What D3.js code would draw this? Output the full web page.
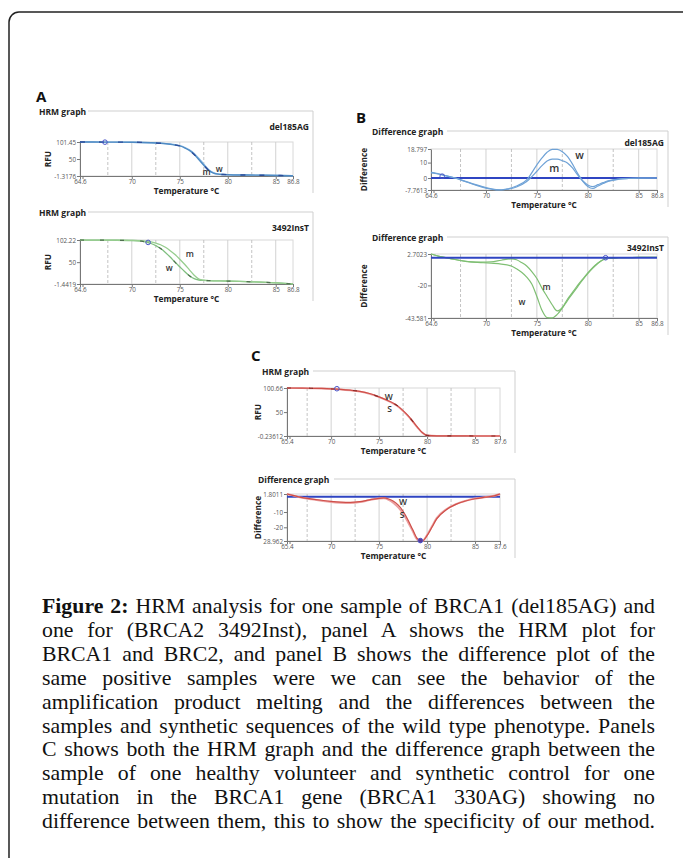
<!DOCTYPE html>
<html>
<head>
<meta charset="utf-8">
<script src="https://cdn.jsdelivr.net/npm/d3@7/dist/d3.min.js"></script>
<style>
  body { margin: 0; background: #fff; }
  #fig { position: relative; width: 683px; height: 858px; overflow: hidden; }
  #fig svg { position: absolute; left: 0; top: 0; }
  .caption { position: absolute; left: 42px; top: 595px; width: 613px;
    font-family: "Liberation Serif", "Times New Roman", serif; font-size: 21.8px; color: #111; }
  .caption div { white-space: nowrap; text-align: justify; text-align-last: justify; line-height: 23.9px; }
  .caption b { font-weight: bold; }
</style>
</head>
<body>
<div id="fig"></div>
<script>
// ---- data ----
const xTicksAB = [64.6, 70, 75, 80, 85, 86.8];
const xTickLabelsAB = ["64.6", "70", "75", "80", "85", "86.8"];
const xTicksC = [65.4, 70, 75, 80, 85, 87.6];
const xTickLabelsC = ["65.4", "70", "75", "80", "85", "87.6"];
const gridSolid = [70, 75, 80, 85];
const gridDashed = [67.5, 72.5, 77.5, 82.5];

// A - HRM graph del185AG
const a1Temp = [64.6, 66, 68, 70, 72, 73, 74, 75, 75.5, 76, 76.5, 77, 77.5, 78, 78.5, 79, 79.5, 80, 82, 84, 86.8];
const a1M = [101.45, 101.3, 101.1, 100.8, 99.2, 97.5, 94.5, 89.5, 84, 76, 64, 48, 31, 16, 7.5, 4.2, 3.2, 2.6, 1.6, 0.8, -0.8];
const a1W = [101.4, 101.3, 101.1, 100.8, 99.4, 97.9, 95.2, 90.5, 85.5, 78, 67, 51.5, 34.5, 18.5, 8.8, 4.8, 3.5, 2.8, 1.7, 0.9, -0.7];
const a1YTicks = [101.45, 50, -1.3176];
const a1YTickLabels = ["101.45", "50", "-1.3176"];

// A - HRM graph 3492InsT
const a2Temp = [64.6, 66, 68, 70, 71, 71.5, 72, 72.5, 73, 73.5, 74, 74.5, 75, 75.5, 76, 76.5, 77, 77.5, 78, 80, 82, 84, 86.8];
const a2W = [102.2, 102, 101.7, 101, 99.5, 97.5, 94, 89, 82, 73, 62, 50, 39, 28, 18, 11, 8, 7, 6.5, 5.5, 4, 2.5, -1.4];
const a2M = [102.2, 102, 101.7, 101.2, 100.5, 99.5, 98, 95, 91, 85, 77, 68, 57, 45, 32, 19, 10, 7.5, 6.7, 5.6, 4.1, 2.6, -1.3];
const a2YTicks = [102.22, 50, -1.4419];
const a2YTickLabels = ["102.22", "50", "-1.4419"];

// B - Difference graph del185AG
const b1Temp = [64.6, 65, 66, 67, 68, 69, 70, 71, 71.5, 72, 73, 74, 75, 75.5, 76, 76.5, 77, 77.5, 78, 78.5, 79, 79.5, 80, 80.5, 81, 81.5, 82, 83, 84, 85, 86.8];
const b1W = [3.6, 3.2, 1.6, 0, -2.2, -4.3, -6.2, -7.5, -7.6, -7.2, -5.2, -1.2, 8.5, 13, 16.7, 18.6, 18.5, 17, 14, 9, 3, -2, -5.5, -6.8, -5.2, -3.6, -2.2, -0.8, -0.3, -0.1, 0];
const b1M = [3.4, 3.0, 1.5, -0.1, -2.4, -4.6, -6.5, -7.7, -7.76, -7.4, -5.8, -2.2, 4.4, 8, 11, 12.3, 12.2, 11.2, 9.8, 6.5, 2, -1.8, -4.5, -5.6, -4.3, -3, -1.8, -0.7, -0.2, 0, 0];
const b1YTicks = [18.797, 10, 0, -7.7613];
const b1YTickLabels = ["18.797", "10", "0", "-7.7613"];

// B - Difference graph 3492InsT
const b2Temp = [64.6, 65.5, 66.5, 67.5, 68.5, 69.5, 70.5, 71.5, 72.5, 73, 73.5, 74, 74.5, 75, 75.5, 76, 76.5, 77, 77.5, 78, 78.5, 79, 79.5, 80, 80.5, 81, 81.5, 82, 83, 84, 85, 86.8];
const b2W = [2.7, 0.8, -0.6, -2.0, -3.0, -3.5, -4.0, -4.6, -6, -8, -10.5, -14, -19, -28, -38, -43.3, -43.5, -41, -36.5, -31, -26, -21, -16, -11.5, -7.5, -4, -1.5, -0.3, 0, 0.1, 0.2, 0.2];
const b2M = [2.7, 0.8, -0.6, -2.0, -3.0, -3.2, -3.0, -1.8, -0.8, -1.5, -3.5, -6, -10, -15, -22, -28, -34, -38.5, -36, -30, -25, -20, -15.5, -11, -7, -3.8, -1.4, -0.3, 0, 0.1, 0.2, 0.2];
const b2YTicks = [2.7023, -20, -43.581];
const b2YTickLabels = ["2.7023", "-20", "-43.581"];

// C - HRM graph (healthy volunteer vs synthetic)
const c1Temp = [65.4, 67, 68, 69, 70, 71, 72, 73, 74, 75, 76, 76.5, 77, 77.5, 78, 78.5, 79, 79.5, 80, 81, 83, 85, 87.6];
const c1W = [100.66, 100.4, 100.1, 99.7, 99, 97.8, 96, 93.5, 89, 82, 73.5, 68.5, 62, 53, 43, 31, 18.5, 7, 1.0, 0, -0.1, -0.2, -0.236];
const c1S = [100.6, 100.3, 100.0, 99.6, 98.8, 97.5, 95.6, 93, 88.5, 81.5, 73, 67.5, 61, 52, 42, 30, 17.5, 6.5, 0.8, 0, -0.1, -0.2, -0.236];
const c1YTicks = [100.66, 50, -0.23612];
const c1YTickLabels = ["100.66", "50", "-0.23612"];

// C - Difference graph
const c2Temp = [65.4, 66, 67, 68, 69, 70, 71, 72, 73, 74, 75, 75.5, 76, 76.5, 77, 77.5, 78, 78.5, 79, 79.5, 80, 80.5, 81, 82, 83, 84, 85, 86, 87, 87.6];
const c2W = [1.8, 0.9, -0.6, -1.5, -2.3, -3.0, -3.5, -3.7, -3.2, -2.0, -1.0, -0.8, -1.5, -3.0, -5.5, -9.5, -15, -21.5, -27.5, -28.9, -25.5, -20, -14.5, -8.5, -5.0, -2.8, -1.3, -0.3, 0.6, 1.8];
const c2S = [1.8, 0.9, -0.7, -1.7, -2.6, -3.4, -3.9, -4.1, -3.5, -2.2, -1.1, -1.0, -2.0, -4.0, -7, -11, -16.5, -22.5, -28.2, -28.96, -25, -19.5, -14, -8.2, -4.8, -2.7, -1.2, -0.3, 0.6, 1.8];
const c2YTicks = [1.8011, -10, -20, -28.962];
const c2YTickLabels = ["1.8011", "-10", "-20", "28.962"];

const captionLines = [
  "<b>Figure 2:</b> HRM analysis for one sample of BRCA1 (del185AG) and",
  "one for (BRCA2 3492Inst), panel A shows the HRM plot for",
  "BRCA1 and BRC2, and panel B shows the difference plot of the",
  "same positive samples were we can see the behavior of the",
  "amplification product melting and the differences between the",
  "samples and synthetic sequences of the wild type phenotype. Panels",
  "C shows both the HRM graph and the difference graph between the",
  "sample of one healthy volunteer and synthetic control for one",
  "mutation in the BRCA1 gene (BRCA1 330AG) showing no",
  "difference between them, this to show the specificity of our method."
];

// ---- drawing ----
const uiFont = '"Open Sans", "Noto Sans", sans-serif';
const fig = d3.select("#fig");
const svg = fig.append("svg").attr("width", 683).attr("height", 858);

// page frame
svg.append("rect")
  .attr("x", 9).attr("y", 12).attr("width", 720).attr("height", 900).attr("rx", 10)
  .attr("fill", "none").attr("stroke", "#222").attr("stroke-width", 1.5);

function panelLetter(txt, px, py) {
  svg.append("text").attr("x", px).attr("y", py).text(txt)
    .attr("font-family", uiFont).attr("font-weight", "bold").attr("font-size", 15).attr("fill", "#111");
}

function drawChart(c) {
  const g = svg.append("g");
  const x = d3.scaleLinear().domain(c.xDomain).range([c.x0, c.x1]);
  const y = d3.scaleLinear().domain(c.yDomain).range([c.bottom, c.top]);

  // header + frame
  g.append("text").attr("x", c.titleX).attr("y", c.titleY).text(c.title)
    .attr("font-family", uiFont).attr("font-weight", "bold").attr("font-size", 8.5).attr("fill", "#222");
  g.append("line").attr("x1", c.headerX).attr("x2", c.frameRight).attr("y1", c.headerY).attr("y2", c.headerY)
    .attr("stroke", "#cfcfcf");
  g.append("line").attr("x1", c.frameRight).attr("x2", c.frameRight).attr("y1", c.headerY).attr("y2", c.bottom + 17)
    .attr("stroke", "#cfcfcf");
  if (c.sample) {
    g.append("text").attr("x", c.sampleX).attr("y", c.sampleY).text(c.sample)
      .attr("text-anchor", "end").attr("font-family", uiFont).attr("font-weight", "bold")
      .attr("font-size", 8.5).attr("fill", "#222");
  }

  // plot box
  g.append("rect").attr("x", c.x0).attr("y", c.top).attr("width", c.x1 - c.x0).attr("height", c.bottom - c.top)
    .attr("fill", "none").attr("stroke", "#d8d8d8");

  // vertical grid
  g.selectAll(".gs").data(gridSolid).enter().append("line")
    .attr("x1", d => x(d)).attr("x2", d => x(d)).attr("y1", c.top).attr("y2", c.bottom)
    .attr("stroke", "#cdcdcd").attr("stroke-width", 0.9);
  g.selectAll(".gd").data(gridDashed).enter().append("line")
    .attr("x1", d => x(d)).attr("x2", d => x(d)).attr("y1", c.top).attr("y2", c.bottom)
    .attr("stroke", "#bdbdbd").attr("stroke-width", 0.9).attr("stroke-dasharray", "3,2");

  // axes
  const xa = g.append("g").attr("transform", "translate(0," + c.bottom + ")")
    .call(d3.axisBottom(x).tickValues(c.xTicks).tickSize(3).tickSizeOuter(0).tickPadding(1)
      .tickFormat((d, i) => c.xTickLabels[i]));
  const ya = g.append("g").attr("transform", "translate(" + c.x0 + ",0)")
    .call(d3.axisLeft(y).tickValues(c.yTicks).tickSize(3).tickSizeOuter(0).tickPadding(1)
      .tickFormat((d, i) => c.yTickLabels[i]));
  [xa, ya].forEach(a => {
    a.attr("font-family", uiFont).attr("font-size", 6.3);
    a.select(".domain").attr("stroke", "#777");
    a.selectAll(".tick line").attr("stroke", "#777");
    a.selectAll(".tick text").attr("fill", "#555");
  });
  // small double tick at the origin
  g.append("line").attr("x1", c.x0 + 3).attr("x2", c.x0 + 3).attr("y1", c.bottom).attr("y2", c.bottom + 3)
    .attr("stroke", "#777");

  g.append("text").attr("x", (c.x0 + c.x1) / 2).attr("y", c.bottom + 18).text("Temperature °C")
    .attr("text-anchor", "middle").attr("font-family", uiFont).attr("font-weight", "bold")
    .attr("font-size", 8.3).attr("fill", "#222");
  g.append("text").attr("transform", "translate(" + c.yLabelX + "," + (c.top + c.bottom) / 2 + ") rotate(-90)")
    .text(c.yLabel).attr("text-anchor", "middle").attr("dy", "0.35em")
    .attr("font-family", uiFont).attr("font-weight", "bold").attr("font-size", 8.3).attr("fill", "#222");

  // baseline for difference graphs
  const baseline = () => g.append("line").attr("x1", c.x0).attr("x2", c.x1)
    .attr("y1", y(c.baseline)).attr("y2", y(c.baseline))
    .attr("stroke", "#2f45c2").attr("stroke-width", 2.2);
  if (c.baseline !== undefined && !c.baselineOnTop) baseline();

  // curves
  const line = d3.line().x(d => x(d[0])).y(d => y(d[1])).curve(d3.curveMonotoneX);
  c.series.forEach(s => {
    g.append("path").datum(d3.zip(c.temps, s.values)).attr("d", line)
      .attr("fill", "none").attr("stroke", s.color).attr("stroke-width", s.width || 1.3)
      .attr("stroke-dasharray", s.dash || null);
  });

  if (c.baseline !== undefined && c.baselineOnTop) baseline();

  if (c.marker) {
    g.append("circle").attr("cx", x(c.marker[0])).attr("cy", y(c.marker[1])).attr("r", 2.3)
      .attr("fill", c.markerFill || "none").attr("stroke", "#4a55c8").attr("stroke-width", 1);
  }

  (c.labels || []).forEach(l => {
    g.append("text").attr("x", x(l.x)).attr("y", y(l.y)).attr("dy", "0.35em").text(l.t)
      .attr("text-anchor", "middle").attr("font-family", uiFont).attr("font-weight", "600")
      .attr("font-size", c.labelSize || 8.5).attr("fill", "#333");
  });
}

panelLetter("A", 36, 102);
panelLetter("B", 356, 123);
panelLetter("C", 251, 361);

drawChart({
  x0: 80, x1: 293, top: 142, bottom: 176, xDomain: [64.6, 86.8], yDomain: [-1.3176, 101.45],
  xTicks: xTicksAB, xTickLabels: xTickLabelsAB, yTicks: a1YTicks, yTickLabels: a1YTickLabels,
  title: "HRM graph", titleX: 39, titleY: 115, headerX: 88, headerY: 111, frameRight: 313,
  sample: "del185AG", sampleX: 309, sampleY: 130, yLabel: "RFU", yLabelX: 48,
  temps: a1Temp,
  series: [{ values: a1W, color: "#8dbbe3", width: 1.4 }, { values: a1M, color: "#4f8bc4", width: 1.4 },
           { values: a1M, color: "#2d4e9a", width: 1.4, dash: "5,14" }],
  marker: [67.2, 101.0],
  labels: [{ t: "w", x: 79.1, y: 19.5 }, { t: "m", x: 77.8, y: 9.7 }]
});

drawChart({
  x0: 80, x1: 293, top: 240, bottom: 284, xDomain: [64.6, 86.8], yDomain: [-1.4419, 102.22],
  xTicks: xTicksAB, xTickLabels: xTickLabelsAB, yTicks: a2YTicks, yTickLabels: a2YTickLabels,
  title: "HRM graph", titleX: 39, titleY: 216, headerX: 88, headerY: 212, frameRight: 313,
  sample: "3492InsT", sampleX: 309, sampleY: 231, yLabel: "RFU", yLabelX: 48,
  temps: a2Temp,
  series: [{ values: a2W, color: "#7fbf7f", width: 1.3 }, { values: a2M, color: "#96cd8e", width: 1.3 },
           { values: a2W, color: "#4f6f4f", width: 1.2, dash: "4,16" }],
  marker: [71.7, 96.5],
  labels: [{ t: "m", x: 76.05, y: 68.7 }, { t: "w", x: 73.9, y: 37.1 }]
});

drawChart({
  x0: 431, x1: 657, top: 149, bottom: 190, xDomain: [64.6, 86.8], yDomain: [-7.7613, 18.797],
  xTicks: xTicksAB, xTickLabels: xTickLabelsAB, yTicks: b1YTicks, yTickLabels: b1YTickLabels,
  title: "Difference graph", titleX: 372, titleY: 135, headerX: 447, headerY: 131, frameRight: 668,
  sample: "del185AG", sampleX: 664, sampleY: 146, yLabel: "Difference", yLabelX: 364,
  temps: b1Temp, baseline: 0,
  series: [{ values: b1W, color: "#6fa2d6", width: 1.2 }, { values: b1M, color: "#6fa2d6", width: 1.2 }],
  marker: [65.7, 1.2],
  labels: [{ t: "w", x: 79.2, y: 14.5 }, { t: "m", x: 76.7, y: 6.0 }], labelSize: 10.5
});

drawChart({
  x0: 431, x1: 657, top: 254, bottom: 318, xDomain: [64.6, 86.8], yDomain: [-43.581, 2.7023],
  xTicks: xTicksAB, xTickLabels: xTickLabelsAB, yTicks: b2YTicks, yTickLabels: b2YTickLabels,
  title: "Difference graph", titleX: 372, titleY: 241, headerX: 447, headerY: 237, frameRight: 668,
  sample: "3492InsT", sampleX: 664, sampleY: 251, yLabel: "Difference", yLabelX: 364,
  temps: b2Temp, baseline: 0, baselineOnTop: true,
  series: [{ values: b2W, color: "#7fbf73", width: 1.2 }, { values: b2M, color: "#7fbf73", width: 1.2 }],
  marker: [81.75, 0],
  labels: [{ t: "m", x: 75.96, y: -20.95 }, { t: "w", x: 73.54, y: -32.1 }]
});

drawChart({
  x0: 287, x1: 500, top: 388, bottom: 436, xDomain: [65.4, 87.6], yDomain: [-0.23612, 100.66],
  xTicks: xTicksC, xTickLabels: xTickLabelsC, yTicks: c1YTicks, yTickLabels: c1YTickLabels,
  title: "HRM graph", titleX: 262, titleY: 375, headerX: 313, headerY: 371, frameRight: 515,
  yLabel: "RFU", yLabelX: 258,
  temps: c1Temp,
  series: [{ values: c1S, color: "#eba0a0", width: 1.8 }, { values: c1W, color: "#cf4f49", width: 1.2 },
           { values: c1W, color: "#8a2c2a", width: 1.2, dash: "4,18" }],
  marker: [70.6, 99.2],
  labels: [{ t: "W", x: 76.0, y: 81.1 }, { t: "S", x: 76.1, y: 55.5 }]
});

drawChart({
  x0: 287, x1: 500, top: 494, bottom: 541, xDomain: [65.4, 87.6], yDomain: [-28.962, 1.8011],
  xTicks: xTicksC, xTickLabels: xTickLabelsC, yTicks: c2YTicks, yTickLabels: c2YTickLabels,
  title: "Difference graph", titleX: 258, titleY: 483, headerX: 334, headerY: 479, frameRight: 515,
  yLabel: "Difference", yLabelX: 258,
  temps: c2Temp, baseline: 0,
  series: [{ values: c2S, color: "#eba0a0", width: 2 }, { values: c2W, color: "#cf4f49", width: 1.2 }],
  marker: [79.3, -28.7], markerFill: "#5a3a9a",
  labels: [{ t: "W", x: 77.5, y: -3.7 }, { t: "S", x: 77.4, y: -11.8 }]
});

// caption
fig.append("div").attr("class", "caption")
  .selectAll("div").data(captionLines).enter().append("div").html(d => d);
</script>
</body>
</html>
